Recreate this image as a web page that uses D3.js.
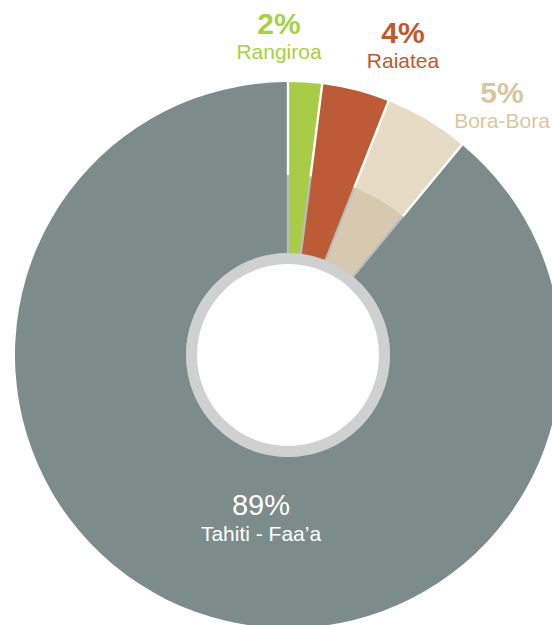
<!DOCTYPE html>
<html><head><meta charset="utf-8">
<script src="https://cdn.jsdelivr.net/npm/d3@7"></script>
<style>body{margin:0;background:#fff}svg{display:block}</style>
</head><body>
<svg id="c" width="552" height="625"></svg>
<script>
const names = ["Rangiroa", "Raiatea", "Bora-Bora", "Tahiti - Faa\u2019a"];
const values = [2, 4, 5, 89];
const sliceColors = ["#a9cc48", "#bc5b35", "#e6dcc5", "#7b8c8a"];
const labelColors = ["#a8cf45", "#c0582e", "#d9c6a0", "#ffffff"];
const innerShade = ["#a9cc48", "#bc5b35", "#d6c9b0", "#7b8c8a"];

const svg = d3.select("#c");
const cx = 288, cy = 355;
const rOuter = 273, rRing = 102, rHole = 91, rShade = 180;
const g = svg.append("g").attr("transform", `translate(${cx},${cy})`);

const pie = d3.pie().sort(null).value(d => d.v);
const data = pie(values.map((v, i) => ({v, i})));

// grey base behind inner gaps
g.append("circle").attr("r", rShade).attr("fill", "#b9bcbc");

const arc = d3.arc().innerRadius(rRing).outerRadius(rOuter).padAngle(0.012).padRadius(200);
g.selectAll("path.s").data(data).join("path").attr("class", "s")
  .attr("d", arc).attr("fill", d => sliceColors[d.data.i]);

const arcIn = d3.arc().innerRadius(rRing).outerRadius(rShade).padAngle(0.012).padRadius(200);
g.selectAll("path.sh").data(data.filter(d => innerShade[d.data.i] !== sliceColors[d.data.i]))
  .join("path").attr("class", "sh").attr("d", arcIn).attr("fill", d => innerShade[d.data.i]);

// ring and hole
g.append("circle").attr("r", rRing).attr("fill", "#cfd0d0");
g.append("circle").attr("r", rHole).attr("fill", "#ffffff");

// labels
const labelPos = [[279, 34, 59], [403, 43, 68], [502, 103, 128], [261, 515, 541]];
const lab = svg.append("g").attr("font-family", "Liberation Sans, Arial, sans-serif").attr("text-anchor", "middle");
data.forEach(d => {
  const i = d.data.i, p = labelPos[i];
  lab.append("text").attr("x", p[0]).attr("y", p[1]).attr("font-size", i === 3 ? 29 : 30)
    .attr("font-weight", i === 3 ? "normal" : "bold").attr("fill", labelColors[i]).text(values[i] + "%");
  lab.append("text").attr("x", p[0]).attr("y", p[2]).attr("font-size", 21)
    .attr("fill", labelColors[i]).text(names[i]);
});
</script>
</body></html>
